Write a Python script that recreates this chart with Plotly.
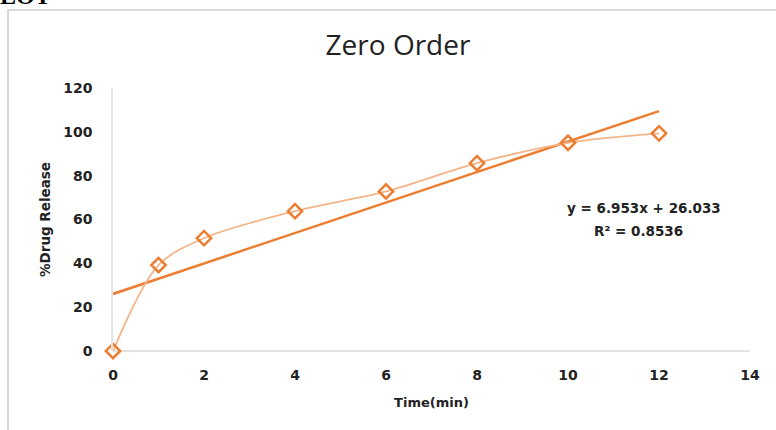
import plotly.graph_objects as go

time_min = [0, 1, 2, 4, 6, 8, 10, 12]
drug_release = [0, 39.2, 51.5, 63.8, 72.8, 85.7, 95.0, 99.3]
slope = 6.953
intercept = 26.033
r_squared = 0.8536
trend_x = [0, 12]
x_ticks = [0, 2, 4, 6, 8, 10, 12, 14]
y_ticks = [0, 20, 40, 60, 80, 100, 120]

trend_y = [slope * x + intercept for x in trend_x]

W, H = 776, 430
L, R, T, B = 113, 26, 88, 79
pw, ph = W - L - R, H - T - B


def px_x(px):
    return (px - L) / pw


def px_y(py):
    return (H - B - py) / ph


fig = go.Figure()
fig.add_trace(go.Scatter(
    x=trend_x, y=trend_y, mode="lines",
    line=dict(color="#ED7D31", width=2.5),
    hoverinfo="skip", showlegend=False, cliponaxis=False))
fig.add_trace(go.Scatter(
    x=time_min, y=drug_release, mode="lines+markers",
    line=dict(color="#F4B58A", width=1.8, shape="spline", smoothing=0.9),
    marker=dict(symbol="diamond-open", size=11, color="#ED7D31",
                line=dict(width=2.5, color="#ED7D31")),
    showlegend=False, cliponaxis=False))

font_bold = "Verdana, DejaVu Sans, sans-serif"
txt = "#222222"

fig.update_layout(
    width=W, height=H,
    margin=dict(l=L, r=R, t=T, b=B),
    paper_bgcolor="white", plot_bgcolor="white",
    title=dict(text="Zero Order", x=398 / W, xanchor="center",
               y=1 - 45 / H, yanchor="middle",
               font=dict(family="Open Sans, sans-serif", size=28, color=txt)),
    xaxis=dict(range=[0, 14], tickvals=x_ticks, showgrid=False,
               zeroline=False, showline=False,
               tickfont=dict(family=font_bold, size=14, color=txt, weight="bold"),
               ticks="", ticklabelstandoff=14,
               title=dict(text="Time(min)", standoff=15,
                          font=dict(family=font_bold, size=13, color=txt, weight="bold"))),
    yaxis=dict(range=[0, 120], tickvals=y_ticks, showgrid=False,
               zeroline=True, zerolinecolor="#E3E3E3", zerolinewidth=1.5,
               showline=True, linecolor="#E3E3E3", linewidth=1.5,
               tickfont=dict(family=font_bold, size=14, color=txt, weight="bold"),
               ticks="", ticklabelstandoff=16,
               title=dict(text="%Drug Release", standoff=9,
                          font=dict(family=font_bold, size=13.5, color=txt, weight="bold"))),
    shapes=[dict(type="line", xref="x", yref="y", x0=0, x1=14, y0=0, y1=0,
                 line=dict(color="#E3E3E3", width=1.5), layer="below"),
            dict(type="rect", xref="paper", yref="paper",
                 x0=px_x(8), x1=1.2, y0=-0.5, y1=px_y(10),
                 line=dict(color="#D9D9D9", width=2), layer="below")],
    annotations=[
        dict(text="y = 6.953x + 26.033", xref="paper", yref="paper",
             x=px_x(644), y=px_y(208), xanchor="center", yanchor="middle",
             showarrow=False,
             font=dict(family=font_bold, size=13.5, color=txt, weight="bold")),
        dict(text="R² = 0.8536", xref="paper", yref="paper",
             x=px_x(638), y=px_y(231), xanchor="center", yanchor="middle",
             showarrow=False,
             font=dict(family=font_bold, size=13.5, color=txt, weight="bold")),
        dict(text="LOT", xref="paper", yref="paper",
             x=px_x(-2), y=px_y(11), xanchor="left", yanchor="bottom",
             showarrow=False,
             font=dict(family="Liberation Serif, serif", size=24, color="#000000", weight="bold")),
    ],
)

fig.write_html("out.html", config={"displayModeBar": False},
               post_script="document.body.style.margin='0';")
